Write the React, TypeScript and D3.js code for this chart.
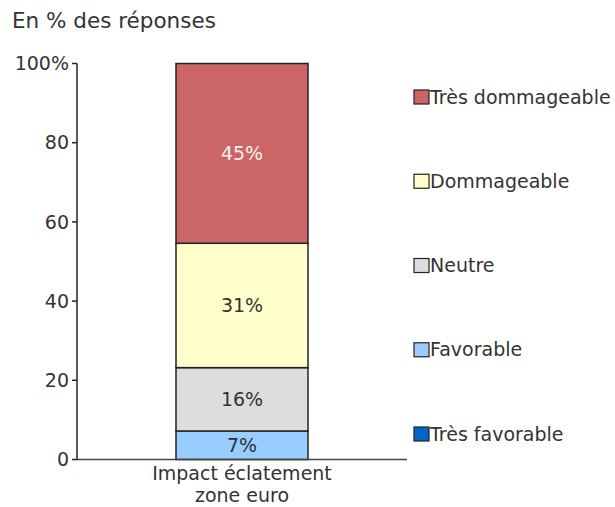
import React from "react";
import * as d3 from "d3";

const categories = ["Impact éclatement|zone euro"];
const seriesNames = ["Très favorable", "Favorable", "Neutre", "Dommageable", "Très dommageable"];
const seriesValues = [[0], [7.2], [16.0], [31.4], [45.4]];
const seriesColors = ["#0066CC", "#99CCFF", "#DDDDDD", "#FFFFCC", "#CC6666"];
const labelColors = ["#333", "#333", "#333", "#333", "#f0f0f0"];
const yTicks = [0, 20, 40, 60, 80, 100];

export default function App() {
  const W = 615, H = 507;
  const left = 77, right = 407, top = 63.5, bottom = 459.5;
  const font = "DejaVu Sans, Verdana, sans-serif";
  const fs = 19;
  const y = d3.scaleLinear().domain([0, 100]).range([bottom, top]);
  const x = d3.scaleBand().domain(categories).range([left, right]).paddingInner(0.6).paddingOuter(0.3);
  const data = categories.map((c, i) => {
    const o: any = { cat: c };
    seriesNames.forEach((s, j) => (o[s] = seriesValues[j][i]));
    return o;
  });
  const stack = d3.stack<any>().keys(seriesNames)(data);
  const legendY = d3.scalePoint().domain([...seriesNames].reverse()).range([97, 434]);

  return (
    <svg width={W} height={H} style={{ position: "absolute", left: 0, top: 0 }} fontFamily={font}>
      <text x={12} y={28} fontSize={21.5} fill="#333">En % des réponses</text>
      {stack.map((layer, j) =>
        layer.map((d, i) => {
          const v = d[1] - d[0];
          if (v <= 0) return null;
          const bx = x(categories[i])!;
          const bw = x.bandwidth();
          return (
            <g key={j + "-" + i}>
              <rect x={bx} y={y(d[1])} width={bw} height={y(d[0]) - y(d[1])}
                fill={seriesColors[j]} stroke="#222" strokeWidth={1.5} />
              <text x={bx + bw / 2} y={(y(d[0]) + y(d[1])) / 2} dy="0.35em" textAnchor="middle"
                fontSize={fs} fill={labelColors[j]}>{Math.round(v)}%</text>
            </g>
          );
        })
      )}
      <line x1={left} x2={left} y1={top} y2={bottom} stroke="#222" strokeWidth={1.5} />
      <line x1={left} x2={right} y1={bottom} y2={bottom} stroke="#444" strokeWidth={1.5} />
      {yTicks.map(t => (
        <g key={t}>
          <line x1={left - 5} x2={left} y1={y(t)} y2={y(t)} stroke="#222" strokeWidth={1.5} />
          <text x={left - 8} y={y(t)} dy="0.35em" textAnchor="end" fontSize={fs} fill="#333">
            {t === 100 ? "100%" : t}
          </text>
        </g>
      ))}
      {categories.map(c => (
        <text key={c} x={x(c)! + x.bandwidth() / 2} y={480} textAnchor="middle" fontSize={fs} fill="#333">
          {c.split("|").map((l, k) => (
            <tspan key={k} x={x(c)! + x.bandwidth() / 2} dy={k === 0 ? 0 : 22}>{l}</tspan>
          ))}
        </text>
      ))}
      {seriesNames.map((s, j) => (
        <g key={s} transform={`translate(414,${legendY(s)})`}>
          <rect x={0} y={-7} width={15} height={14} fill={seriesColors[j]} stroke="#222" strokeWidth={1.2} />
          <text x={16} y={0} dy="0.35em" fontSize={fs} fill="#333">{s}</text>
        </g>
      ))}
    </svg>
  );
}
